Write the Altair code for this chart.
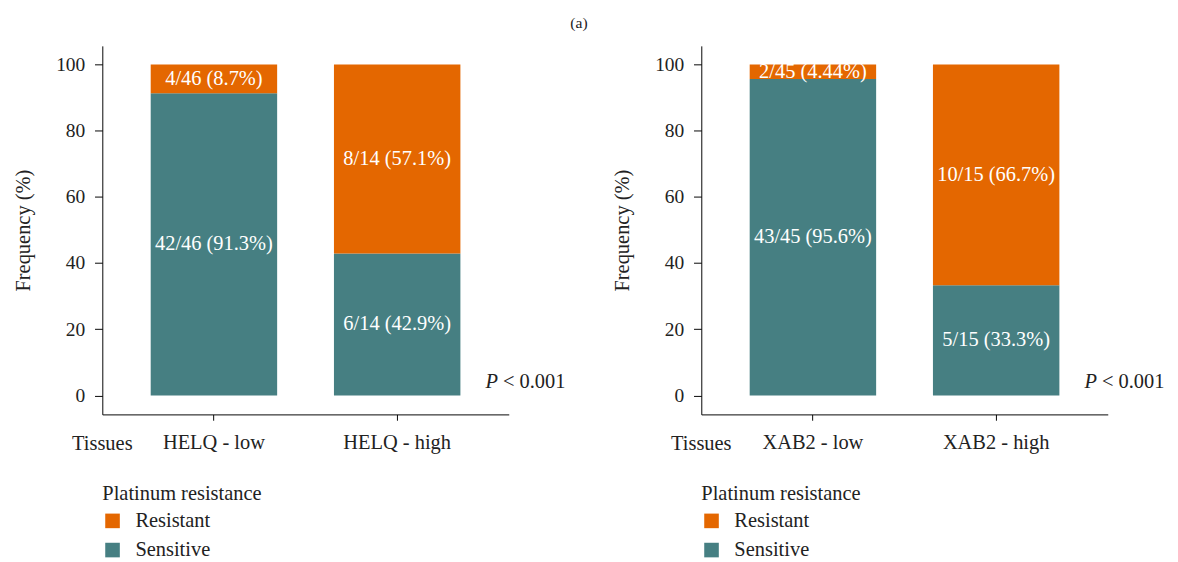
import altair as alt
import pandas as pd

FONT = "Liberation Serif"
ORANGE = "#E46700"
TEAL = "#467F82"

# ---- data ----
groups_a = ["HELQ - low", "HELQ - high"]
sens_a = [91.3, 42.9]
res_a = [8.7, 57.1]
sens_lab_a = ["42/46 (91.3%)", "6/14 (42.9%)"]
res_lab_a = ["4/46 (8.7%)", "8/14 (57.1%)"]

groups_b = ["XAB2 - low", "XAB2 - high"]
sens_b = [95.56, 33.3]
res_b = [4.44, 66.7]
sens_lab_b = ["43/45 (95.6%)", "5/15 (33.3%)"]
res_lab_b = ["2/45 (4.44%)", "10/15 (66.7%)"]

status_domain = ["Resistant", "Sensitive"]
y_ticks = [0, 20, 40, 60, 80, 100]
tissues_text = ["Tissues"]
p_italic = ["P"]
p_rest = ["< 0.001"]
main_title = "(a)"

W, H = 418, 379
FS = 21
TICK_FS = 20


def panel(groups, sens, res, sl, rl):
    rows = []
    for g, s, r, a, b in zip(groups, sens, res, sl, rl):
        rows.append(dict(group=g, status="Sensitive", ord=0, pct=s, label=a))
        rows.append(dict(group=g, status="Resistant", ord=1, pct=r, label=b))
    df = pd.DataFrame(rows)
    base = alt.Chart(df).transform_stack(
        stack="pct", groupby=["group"],
        sort=[alt.SortField("ord", order="ascending")],
        as_=["y0", "y1"],
    ).transform_calculate(mid="(datum.y0 + datum.y1) / 2")

    x_enc = alt.X(
        "group:N", sort=groups,
        scale=alt.Scale(paddingInner=0.31, paddingOuter=0.264),
        axis=alt.Axis(title=None, labelAngle=0, tickSize=6, labelPadding=12,
                      labelFontSize=FS),
    )
    y_scale = alt.Scale(domain=[-5.7, 105.6], nice=False, zero=False)
    y_axis = alt.Axis(values=y_ticks, tickSize=8, labelPadding=10,
                      labelFontSize=TICK_FS,
                      title="Frequency (%)", titlePadding=23)

    bars = base.mark_bar().encode(
        x=x_enc,
        y=alt.Y("y0:Q", scale=y_scale, axis=y_axis),
        y2="y1:Q",
        color=alt.Color(
            "status:N",
            scale=alt.Scale(domain=status_domain, range=[ORANGE, TEAL]),
            legend=alt.Legend(
                title="Platinum resistance", orient="none",
                legendX=0, legendY=450, symbolType="square",
                symbolSize=225, symbolStrokeWidth=0,
                titleFont=FONT, titleFontSize=FS, titleFontWeight="normal",
                titleColor="#222", labelColor="#222",
                labelFont=FONT, labelFontSize=FS, labelOffset=13,
                rowPadding=8, titlePadding=7,
            ),
        ),
    )
    text = base.mark_text(color="white", font=FONT, fontSize=FS).encode(
        x=alt.X("group:N", sort=groups),
        y=alt.Y("mid:Q", scale=y_scale, axis=y_axis),
        text="label:N",
    )
    tissues = alt.Chart(pd.DataFrame({"t": tissues_text})).mark_text(
        font=FONT, fontSize=FS, color="#222", baseline="middle"
    ).encode(x=alt.value(0), y=alt.value(410), text="t:N")
    p1 = alt.Chart(pd.DataFrame({"t": p_italic})).mark_text(
        font=FONT, fontSize=FS, color="#222", fontStyle="italic", align="left"
    ).encode(x=alt.value(394), y=alt.value(346), text="t:N")
    p2 = alt.Chart(pd.DataFrame({"t": p_rest})).mark_text(
        font=FONT, fontSize=FS, color="#222", align="left"
    ).encode(x=alt.value(412), y=alt.value(346), text="t:N")
    return alt.layer(bars, text, tissues, p1, p2).properties(width=W, height=H)


left = panel(groups_a, sens_a, res_a, sens_lab_a, res_lab_a)
right = panel(groups_b, sens_b, res_b, sens_lab_b, res_lab_b)

chart = alt.hconcat(left, right, spacing=47).resolve_scale(
    color="independent"
).resolve_legend(color="independent").properties(
    title=alt.TitleParams(main_title, font=FONT, fontSize=16,
                          fontWeight="normal", anchor="middle", color="#222",
                          offset=15, dx=-10),
    padding={"left": 5, "top": 0, "right": 5, "bottom": 0},
).configure_view(stroke=None).configure_axis(
    grid=False, domainColor="black", tickColor="black",
    labelFont=FONT, labelFontSize=FS, labelColor="#222",
    titleFont=FONT, titleFontSize=FS, titleFontWeight="normal", titleColor="#222",
)

chart.save("out.html", embed_options={"renderer": "svg", "actions": False})
